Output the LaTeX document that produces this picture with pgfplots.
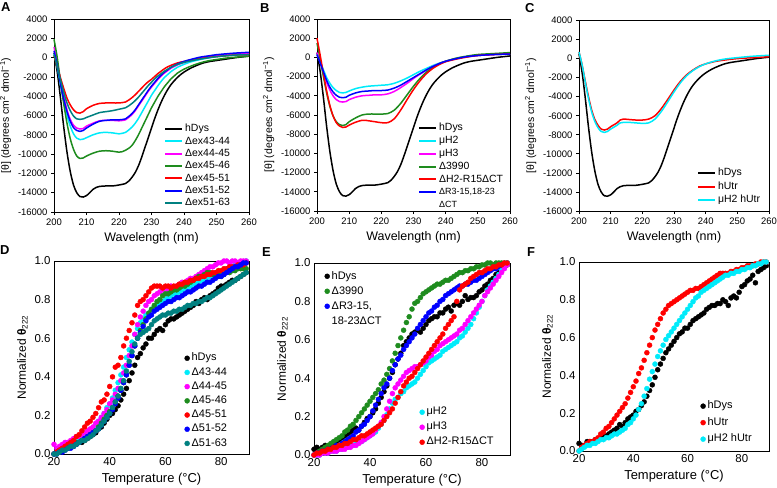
\documentclass[border=0pt]{standalone}
\usepackage{fontspec}
\setmainfont{Liberation Sans}
\usepackage{pgfplots}
\usepackage{pgfplotstable}
\pgfplotsset{compat=1.18}

\definecolor{cCyan}{RGB}{0,235,250}
\definecolor{cMag}{RGB}{255,0,255}
\definecolor{cGreen}{RGB}{30,140,30}
\definecolor{cRed}{RGB}{255,0,0}
\definecolor{cBlue}{RGB}{0,0,255}
\definecolor{cTeal}{RGB}{0,128,128}

% hDys CD spectrum, shared by A, B, C
\pgfplotstableread{
200 500
201 -1500
202 -4200
203 -7200
204 -9800
205 -11800
206 -13200
207 -14000
208 -14400
209 -14450
210 -14300
211 -14000
212 -13650
213 -13450
214 -13350
216 -13300
218 -13300
220 -13200
222 -13050
223 -12800
224 -12400
225 -11900
226 -11200
227 -10300
228 -9300
229 -8300
230 -7300
231 -6300
232 -5400
233 -4600
234 -3900
235 -3300
236 -2800
237 -2400
238 -2050
239 -1750
240 -1500
242 -1100
244 -800
246 -550
248 -400
250 -300
253 -150
256 0
260 150
}\hdys

\pgfplotsset{
  panel/.style={scale only axis, clip=false,
    axis line style={line width=0.8bp},
    /pgf/number format/assume math mode=true,
    /pgf/number format/1000 sep={},
    scaled ticks=false,
    legend cell align=left,
    legend style={draw=none, fill=none, inner sep=0pt}},
  cd/.style={panel, xmin=200, xmax=260, ymin=-16000, ymax=4000,
    xtick={200,210,...,260}, ytick={-16000,-14000,...,4000},
    tick align=outside, tick pos=left, major tick length=3bp,
    tick style={line width=0.8bp, black},
    tick label style={font=\fontsize{9.5}{11}\selectfont},
    xlabel={Wavelength (nm)},
    ylabel={[θ] (degrees cm\textsuperscript{2} dmol\textsuperscript{−1})},
    xlabel style={font=\fontsize{12.5}{14}\selectfont},
    ylabel style={font=\fontsize{10.5}{12}\selectfont},
    legend style={font=\fontsize{10.5}{12}\selectfont},
    legend image post style={line width=2bp},
    every axis plot/.append style={line width=1.5bp, smooth, no marks}},
  melt/.style={panel, xmin=20, xmax=90, ymin=0, ymax=1,
    xtick={20,40,60,80}, ytick={0,0.2,0.4,0.6,0.8,1},
    major tick length=0pt, tick style={draw=none},
    tick label style={font=\fontsize{11.5}{13}\selectfont},
    yticklabel style={/pgf/number format/fixed,
      /pgf/number format/fixed zerofill, /pgf/number format/precision=1},
    xlabel={Temperature (°C)},
    ylabel={Normalized {\bfseries θ}\textsubscript{222}},
    xlabel style={font=\fontsize{13}{14}\selectfont, yshift=-1bp},
    ylabel style={font=\fontsize{12}{13}\selectfont},
    legend style={font=\fontsize{11}{12}\selectfont},
    every axis plot/.append style={only marks, mark=*, mark size=2.5bp}},
  rows/.style={legend style={nodes={text height=8bp, text depth=2.5bp, inner ysep=#1}}},
}

\begin{document}
\begin{tikzpicture}
\useasboundingbox (0,0) rectangle (777bp,-488bp);

\foreach \l/\x/\y in {A/1/-2, B/260/-3, C/525/-3, D/0/-245, E/262/-247, F/527/-247}
  \node[anchor=north west, inner sep=0pt, font=\bfseries\fontsize{13}{13}\selectfont] at (\x bp,\y bp) {\l};

%% ---------------- A ----------------
\begin{axis}[cd, at={(54bp,-19bp)}, anchor=north west, width=195bp, height=193bp,
  rows=0.9bp, legend style={at={(0.564,0.462)}, anchor=north west}]
\addplot[black] table {\hdys};
\addlegendentry{hDys}
\addplot[cCyan] coordinates {(200,400) (201,-1000) (202,-2800) (203,-4500) (204,-6000) (205,-7100) (206,-7900) (207,-8350) (208,-8500) (209,-8450) (210,-8300) (212,-8000) (214,-7800) (216,-7750) (218,-7800) (220,-7900) (221,-7850) (222,-7750) (223,-7500) (224,-7200) (225,-6800) (226,-6300) (227,-5700) (228,-5100) (229,-4500) (230,-3900) (231,-3400) (232,-2900) (233,-2450) (234,-2050) (235,-1750) (236,-1450) (238,-1000) (240,-700) (242,-450) (245,-200) (248,0) (250,100) (255,250) (260,350)};
\addlegendentry{Δex43-44}
\addplot[cMag] coordinates {(200,1100) (201,-500) (202,-2400) (203,-4000) (204,-5400) (205,-6400) (206,-7000) (207,-7300) (208,-7400) (209,-7350) (210,-7100) (212,-6800) (214,-6550) (216,-6500) (218,-6500) (220,-6550) (222,-6450) (223,-6200) (224,-5900) (225,-5500) (226,-5000) (227,-4500) (228,-4000) (229,-3500) (230,-3050) (231,-2650) (232,-2250) (233,-1900) (234,-1600) (235,-1350) (236,-1100) (238,-750) (240,-500) (242,-300) (245,-50) (248,100) (250,200) (255,350) (260,450)};
\addlegendentry{Δex44-45}
\addplot[cGreen] coordinates {(200,1900) (201,0) (202,-2500) (203,-4800) (204,-6800) (205,-8400) (206,-9500) (207,-10200) (208,-10450) (209,-10400) (210,-10200) (212,-9900) (214,-9700) (216,-9650) (218,-9700) (220,-9800) (221,-9750) (222,-9600) (223,-9400) (224,-9100) (225,-8600) (226,-8000) (227,-7300) (228,-6600) (229,-5900) (230,-5200) (231,-4600) (232,-4000) (233,-3500) (234,-3000) (235,-2600) (236,-2200) (237,-1900) (238,-1600) (240,-1200) (242,-900) (244,-650) (246,-450) (248,-300) (250,-200) (253,-50) (256,50) (260,150)};
\addlegendentry{Δex45-46}
\addplot[cRed] coordinates {(200,200) (201,-900) (202,-2100) (203,-3200) (204,-4200) (205,-4900) (206,-5400) (207,-5700) (208,-5750) (209,-5600) (210,-5300) (212,-4950) (214,-4750) (216,-4700) (218,-4700) (220,-4700) (222,-4600) (223,-4400) (224,-4150) (225,-3850) (226,-3500) (227,-3150) (228,-2800) (229,-2500) (230,-2250) (231,-1950) (232,-1650) (233,-1400) (234,-1150) (235,-950) (236,-800) (238,-550) (240,-400) (242,-250) (245,-100) (248,50) (250,100) (255,250) (260,300)};
\addlegendentry{Δex45-51}
\addplot[cBlue] coordinates {(200,700) (201,-800) (202,-2700) (203,-4300) (204,-5600) (205,-6600) (206,-7250) (207,-7550) (208,-7650) (209,-7550) (210,-7300) (212,-6900) (214,-6600) (216,-6500) (218,-6450) (220,-6450) (222,-6350) (223,-6100) (224,-5800) (225,-5400) (226,-4900) (227,-4400) (228,-3900) (229,-3400) (230,-2950) (231,-2550) (232,-2150) (233,-1800) (234,-1500) (235,-1250) (236,-1000) (238,-650) (240,-400) (242,-200) (245,50) (248,200) (250,300) (255,450) (260,550)};
\addlegendentry{Δex51-52}
\addplot[cTeal] coordinates {(200,300) (201,-900) (202,-2300) (203,-3600) (204,-4700) (205,-5500) (206,-6050) (207,-6350) (208,-6400) (209,-6350) (210,-6200) (212,-5950) (214,-5700) (216,-5600) (218,-5500) (220,-5350) (222,-5200) (223,-5000) (224,-4750) (225,-4450) (226,-4100) (227,-3700) (228,-3300) (229,-2900) (230,-2550) (231,-2200) (232,-1900) (233,-1650) (234,-1400) (235,-1200) (236,-1000) (238,-700) (240,-500) (242,-350) (245,-150) (248,0) (250,100) (255,250) (260,300)};
\addlegendentry{Δex51-63}
\end{axis}

%% ---------------- B ----------------
\begin{axis}[cd, at={(317bp,-19bp)}, anchor=north west, width=193bp, height=192bp,
  rows=1.15bp, legend style={at={(0.523,0.466)}, anchor=north west}]
\addplot[black] table {\hdys};
\addlegendentry{hDys}
\addplot[cCyan] coordinates {(200,300) (201,-500) (202,-1300) (203,-2100) (204,-2700) (205,-3150) (206,-3450) (207,-3650) (208,-3700) (209,-3650) (210,-3500) (212,-3250) (214,-3100) (216,-3000) (218,-2950) (220,-2900) (222,-2850) (224,-2700) (226,-2450) (228,-2150) (230,-1800) (232,-1450) (234,-1150) (236,-850) (238,-600) (240,-400) (243,-150) (246,50) (250,200) (255,300) (260,350)};
\addlegendentry{μH2}
\addplot[cMag] coordinates {(200,500) (201,-500) (202,-1600) (203,-2600) (204,-3400) (205,-4000) (206,-4400) (207,-4600) (208,-4650) (209,-4600) (210,-4400) (212,-4150) (214,-4000) (216,-3950) (218,-3900) (220,-3900) (222,-3800) (224,-3550) (226,-3150) (228,-2700) (230,-2200) (232,-1750) (234,-1350) (236,-950) (238,-650) (240,-400) (243,-150) (246,50) (250,200) (255,300) (260,400)};
\addlegendentry{μH3}
\addplot[cGreen] coordinates {(200,1500) (201,-200) (202,-2000) (203,-3700) (204,-5100) (205,-6100) (206,-6700) (207,-7000) (208,-7100) (209,-7000) (210,-6700) (212,-6300) (214,-6000) (216,-5900) (218,-5900) (220,-5900) (222,-5850) (224,-5500) (226,-4800) (228,-3900) (230,-3000) (232,-2200) (234,-1550) (236,-1050) (238,-650) (240,-400) (243,-100) (246,100) (250,300) (255,400) (260,500)};
\addlegendentry{Δ3990}
\addplot[cRed] coordinates {(200,2000) (201,200) (202,-1700) (203,-3500) (204,-5000) (205,-6100) (206,-6800) (207,-7150) (208,-7300) (209,-7250) (210,-7050) (212,-6750) (214,-6550) (215,-6550) (216,-6600) (218,-6700) (220,-6800) (222,-6800) (224,-6400) (226,-5500) (228,-4400) (230,-3350) (232,-2450) (234,-1700) (236,-1150) (238,-750) (240,-450) (243,-200) (246,0) (250,200) (255,300) (260,350)};
\addlegendentry{ΔH2-R15ΔCT}
\addplot[cBlue] coordinates {(200,300) (201,-600) (202,-1500) (203,-2400) (204,-3100) (205,-3600) (206,-3950) (207,-4150) (208,-4200) (209,-4150) (210,-3950) (212,-3700) (214,-3550) (216,-3500) (218,-3450) (220,-3450) (222,-3400) (224,-3200) (226,-2900) (228,-2500) (230,-2100) (232,-1700) (234,-1300) (236,-950) (238,-650) (240,-400) (243,-150) (246,50) (250,200) (255,300) (260,350)};
\addlegendentry{{\fontsize{9}{10}\selectfont ΔR3-15,18-23}}
\addlegendimage{empty legend}
\addlegendentry{{\fontsize{9}{10}\selectfont ΔCT}}
\end{axis}

%% ---------------- C ----------------
\begin{axis}[cd, at={(579bp,-20.5bp)}, anchor=north west, width=190bp, height=190.5bp,
  rows=1.5bp, legend style={at={(0.62,0.235)}, anchor=north west}]
\addplot[black] table {\hdys};
\addlegendentry{hDys}
\addplot[cRed] coordinates {(200,700) (201,-700) (202,-2400) (203,-4000) (204,-5400) (205,-6400) (206,-7000) (207,-7400) (208,-7500) (209,-7400) (210,-7150) (212,-6750) (213,-6450) (214,-6350) (216,-6400) (218,-6450) (220,-6450) (222,-6350) (224,-6000) (226,-5250) (228,-4300) (230,-3300) (232,-2400) (234,-1700) (236,-1200) (238,-800) (240,-550) (243,-300) (246,-150) (250,0) (255,100) (260,200)};
\addlegendentry{hUtr}
\addplot[cCyan] coordinates {(200,700) (201,-700) (202,-2500) (203,-4200) (204,-5600) (205,-6600) (206,-7250) (207,-7650) (208,-7750) (209,-7650) (210,-7400) (212,-7000) (213,-6750) (214,-6700) (216,-6700) (218,-6750) (220,-6800) (222,-6750) (224,-6350) (226,-5550) (228,-4550) (230,-3500) (232,-2550) (234,-1800) (236,-1250) (238,-850) (240,-550) (243,-250) (246,-50) (250,100) (255,250) (260,350)};
\addlegendentry{μH2 hUtr}
\end{axis}

%% ---------------- D ----------------
\begin{axis}[melt, at={(54bp,-261bp)}, anchor=north west, width=195bp, height=193bp,
  rows=1.85bp, legend style={at={(0.669,0.534)}, anchor=north west}]
\addplot[black] table[row sep=\\] {20 0.00\\ 21 0.01\\ 22 0.02\\ 23 0.02\\ 24 0.03\\ 25 0.03\\ 26 0.04\\ 27 0.04\\ 28 0.05\\ 29 0.06\\ 30 0.06\\ 31 0.07\\ 32 0.08\\ 33 0.09\\ 34 0.10\\ 35 0.11\\ 36 0.13\\ 37 0.14\\ 38 0.16\\ 39 0.18\\ 40 0.20\\ 41 0.21\\ 42 0.23\\ 43 0.25\\ 44 0.28\\ 45 0.31\\ 46 0.34\\ 47 0.38\\ 48 0.42\\ 49 0.46\\ 50 0.50\\ 51 0.52\\ 52 0.55\\ 53 0.57\\ 54 0.60\\ 55 0.60\\ 56 0.62\\ 57 0.64\\ 58 0.65\\ 59 0.64\\ 60 0.67\\ 61 0.69\\ 62 0.70\\ 63 0.70\\ 64 0.71\\ 65 0.72\\ 66 0.73\\ 67 0.74\\ 68 0.75\\ 69 0.76\\ 70 0.77\\ 71 0.79\\ 72 0.78\\ 73 0.80\\ 74 0.81\\ 75 0.80\\ 76 0.82\\ 77 0.83\\ 78 0.84\\ 79 0.86\\ 80 0.87\\ 81 0.87\\ 82 0.88\\ 83 0.89\\ 84 0.90\\ 85 0.90\\ 86 0.91\\ 87 0.92\\ 88 0.93\\ 89 0.94\\};
\addlegendentry{hDys}
\addplot[cCyan] table[row sep=\\] {20 0.00\\ 21 0.01\\ 22 0.02\\ 23 0.02\\ 24 0.03\\ 25 0.04\\ 26 0.05\\ 27 0.05\\ 28 0.06\\ 29 0.07\\ 30 0.08\\ 31 0.09\\ 32 0.10\\ 33 0.12\\ 34 0.13\\ 35 0.15\\ 36 0.17\\ 37 0.19\\ 38 0.21\\ 39 0.24\\ 40 0.26\\ 41 0.29\\ 42 0.33\\ 43 0.37\\ 44 0.41\\ 45 0.45\\ 46 0.50\\ 47 0.54\\ 48 0.58\\ 49 0.62\\ 50 0.65\\ 51 0.68\\ 52 0.70\\ 53 0.72\\ 54 0.73\\ 55 0.75\\ 56 0.76\\ 57 0.77\\ 58 0.78\\ 59 0.79\\ 60 0.80\\ 61 0.81\\ 62 0.82\\ 63 0.83\\ 64 0.83\\ 65 0.84\\ 66 0.85\\ 67 0.86\\ 68 0.86\\ 69 0.87\\ 70 0.88\\ 71 0.88\\ 72 0.89\\ 73 0.90\\ 74 0.90\\ 75 0.91\\ 76 0.92\\ 77 0.92\\ 78 0.93\\ 79 0.94\\ 80 0.94\\ 81 0.95\\ 82 0.96\\ 83 0.96\\ 84 0.97\\ 85 0.98\\ 86 0.98\\ 87 0.99\\ 88 0.99\\ 89 1.00\\};
\addlegendentry{Δ43-44}
\addplot[cMag] table[row sep=\\] {20 0.05\\ 21 0.03\\ 22 0.04\\ 23 0.05\\ 24 0.06\\ 25 0.06\\ 26 0.07\\ 27 0.08\\ 28 0.09\\ 29 0.09\\ 30 0.10\\ 31 0.11\\ 32 0.12\\ 33 0.13\\ 34 0.14\\ 35 0.16\\ 36 0.17\\ 37 0.19\\ 38 0.21\\ 39 0.23\\ 40 0.26\\ 41 0.28\\ 42 0.31\\ 43 0.34\\ 44 0.38\\ 45 0.42\\ 46 0.46\\ 47 0.51\\ 48 0.56\\ 49 0.62\\ 50 0.67\\ 51 0.71\\ 52 0.74\\ 53 0.77\\ 54 0.79\\ 55 0.80\\ 56 0.82\\ 57 0.83\\ 58 0.84\\ 59 0.85\\ 60 0.86\\ 61 0.85\\ 62 0.87\\ 63 0.86\\ 64 0.87\\ 65 0.88\\ 66 0.89\\ 67 0.89\\ 68 0.90\\ 69 0.91\\ 70 0.91\\ 71 0.92\\ 72 0.93\\ 73 0.94\\ 74 0.95\\ 75 0.96\\ 76 0.97\\ 77 0.97\\ 78 0.98\\ 79 0.99\\ 80 0.99\\ 81 1.00\\ 82 1.00\\ 83 0.99\\ 84 1.00\\ 85 1.00\\ 86 0.99\\ 87 1.00\\ 88 1.00\\ 89 1.00\\};
\addlegendentry{Δ44-45}
\addplot[cGreen] table[row sep=\\] {20 0.00\\ 21 0.01\\ 22 0.02\\ 23 0.02\\ 24 0.03\\ 25 0.04\\ 26 0.04\\ 27 0.05\\ 28 0.06\\ 29 0.06\\ 30 0.07\\ 31 0.08\\ 32 0.09\\ 33 0.10\\ 34 0.11\\ 35 0.12\\ 36 0.14\\ 37 0.16\\ 38 0.18\\ 39 0.20\\ 40 0.22\\ 41 0.24\\ 42 0.27\\ 43 0.30\\ 44 0.33\\ 45 0.37\\ 46 0.41\\ 47 0.46\\ 48 0.51\\ 49 0.56\\ 50 0.60\\ 51 0.64\\ 52 0.67\\ 53 0.70\\ 54 0.73\\ 55 0.75\\ 56 0.77\\ 57 0.79\\ 58 0.80\\ 59 0.82\\ 60 0.83\\ 61 0.83\\ 62 0.84\\ 63 0.85\\ 64 0.85\\ 65 0.86\\ 66 0.87\\ 67 0.87\\ 68 0.88\\ 69 0.89\\ 70 0.90\\ 71 0.91\\ 72 0.92\\ 73 0.92\\ 74 0.93\\ 75 0.94\\ 76 0.94\\ 77 0.93\\ 78 0.92\\ 79 0.93\\ 80 0.92\\ 81 0.93\\ 82 0.94\\ 83 0.94\\ 84 0.95\\ 85 0.95\\ 86 0.96\\ 87 0.96\\ 88 0.96\\ 89 0.96\\};
\addlegendentry{Δ45-46}
\addplot[cRed] table[row sep=\\] {20 0.00\\ 21 0.01\\ 22 0.02\\ 23 0.03\\ 24 0.04\\ 25 0.05\\ 26 0.06\\ 27 0.07\\ 28 0.09\\ 29 0.10\\ 30 0.12\\ 31 0.14\\ 32 0.16\\ 33 0.17\\ 34 0.19\\ 35 0.21\\ 36 0.24\\ 37 0.27\\ 38 0.28\\ 39 0.31\\ 40 0.35\\ 41 0.40\\ 42 0.45\\ 43 0.46\\ 44 0.50\\ 45 0.56\\ 46 0.60\\ 47 0.64\\ 48 0.68\\ 49 0.72\\ 50 0.77\\ 51 0.79\\ 52 0.80\\ 53 0.82\\ 54 0.84\\ 55 0.86\\ 56 0.87\\ 57 0.87\\ 58 0.87\\ 59 0.86\\ 60 0.87\\ 61 0.87\\ 62 0.86\\ 63 0.87\\ 64 0.87\\ 65 0.88\\ 66 0.88\\ 67 0.89\\ 68 0.89\\ 69 0.90\\ 70 0.90\\ 71 0.91\\ 72 0.91\\ 73 0.92\\ 74 0.92\\ 75 0.93\\ 76 0.93\\ 77 0.94\\ 78 0.94\\ 79 0.95\\ 80 0.95\\ 81 0.96\\ 82 0.96\\ 83 0.97\\ 84 0.97\\ 85 0.97\\ 86 0.98\\ 87 0.98\\ 88 0.98\\ 89 0.99\\};
\addlegendentry{Δ45-51}
\addplot[cBlue] table[row sep=\\] {20 0.00\\ 21 0.00\\ 22 0.01\\ 23 0.01\\ 24 0.02\\ 25 0.03\\ 26 0.03\\ 27 0.04\\ 28 0.05\\ 29 0.06\\ 30 0.07\\ 31 0.08\\ 32 0.09\\ 33 0.10\\ 34 0.11\\ 35 0.12\\ 36 0.13\\ 37 0.15\\ 38 0.17\\ 39 0.19\\ 40 0.21\\ 41 0.23\\ 42 0.26\\ 43 0.29\\ 44 0.33\\ 45 0.37\\ 46 0.41\\ 47 0.46\\ 48 0.51\\ 49 0.56\\ 50 0.60\\ 51 0.63\\ 52 0.66\\ 53 0.69\\ 54 0.71\\ 55 0.72\\ 56 0.74\\ 57 0.75\\ 58 0.76\\ 59 0.77\\ 60 0.78\\ 61 0.79\\ 62 0.79\\ 63 0.80\\ 64 0.81\\ 65 0.81\\ 66 0.82\\ 67 0.83\\ 68 0.84\\ 69 0.84\\ 70 0.85\\ 71 0.86\\ 72 0.87\\ 73 0.87\\ 74 0.88\\ 75 0.89\\ 76 0.89\\ 77 0.90\\ 78 0.91\\ 79 0.92\\ 80 0.92\\ 81 0.93\\ 82 0.94\\ 83 0.95\\ 84 0.96\\ 85 0.97\\ 86 0.97\\ 87 0.98\\ 88 0.99\\ 89 0.99\\};
\addlegendentry{Δ51-52}
\addplot[cTeal] table[row sep=\\] {20 0.00\\ 21 0.00\\ 22 0.01\\ 23 0.02\\ 24 0.02\\ 25 0.03\\ 26 0.04\\ 27 0.04\\ 28 0.05\\ 29 0.06\\ 30 0.07\\ 31 0.07\\ 32 0.08\\ 33 0.09\\ 34 0.10\\ 35 0.12\\ 36 0.13\\ 37 0.15\\ 38 0.17\\ 39 0.19\\ 40 0.21\\ 41 0.24\\ 42 0.27\\ 43 0.30\\ 44 0.34\\ 45 0.38\\ 46 0.43\\ 47 0.48\\ 48 0.53\\ 49 0.57\\ 50 0.60\\ 51 0.62\\ 52 0.63\\ 53 0.64\\ 54 0.65\\ 55 0.67\\ 56 0.69\\ 57 0.70\\ 58 0.71\\ 59 0.72\\ 60 0.72\\ 61 0.73\\ 62 0.73\\ 63 0.74\\ 64 0.74\\ 65 0.75\\ 66 0.75\\ 67 0.76\\ 68 0.77\\ 69 0.77\\ 70 0.78\\ 71 0.78\\ 72 0.79\\ 73 0.79\\ 74 0.80\\ 75 0.81\\ 76 0.81\\ 77 0.82\\ 78 0.83\\ 79 0.84\\ 80 0.85\\ 81 0.86\\ 82 0.87\\ 83 0.88\\ 84 0.89\\ 85 0.90\\ 86 0.91\\ 87 0.92\\ 88 0.93\\ 89 0.94\\};
\addlegendentry{Δ51-63}
\end{axis}

%% ---------------- E ----------------
\begin{axis}[melt, at={(314bp,-263bp)}, anchor=north west, width=196bp, height=192bp,
  rows=2.25bp, legend style={at={(0.023,0.971)}, anchor=north west}]
\addplot[black] table[row sep=\\] {20 0.03\\ 21 0.04\\ 22 0.03\\ 23 0.04\\ 24 0.05\\ 25 0.04\\ 26 0.05\\ 27 0.06\\ 28 0.07\\ 29 0.08\\ 30 0.09\\ 31 0.10\\ 32 0.11\\ 33 0.12\\ 34 0.13\\ 35 0.14\\ 36 0.13\\ 37 0.15\\ 38 0.17\\ 39 0.19\\ 40 0.20\\ 41 0.22\\ 42 0.24\\ 43 0.27\\ 44 0.30\\ 45 0.33\\ 46 0.36\\ 47 0.40\\ 48 0.43\\ 49 0.47\\ 50 0.50\\ 51 0.53\\ 52 0.57\\ 53 0.59\\ 54 0.61\\ 55 0.63\\ 56 0.64\\ 57 0.65\\ 58 0.64\\ 59 0.66\\ 60 0.68\\ 61 0.70\\ 62 0.71\\ 63 0.72\\ 64 0.72\\ 65 0.74\\ 66 0.74\\ 67 0.76\\ 68 0.77\\ 69 0.75\\ 70 0.78\\ 71 0.79\\ 72 0.78\\ 73 0.80\\ 74 0.83\\ 75 0.81\\ 76 0.82\\ 77 0.82\\ 78 0.83\\ 79 0.85\\ 80 0.86\\ 81 0.88\\ 82 0.89\\ 83 0.91\\ 84 0.92\\ 85 0.94\\ 86 0.95\\ 87 0.97\\ 88 0.98\\ 89 0.99\\};
\addlegendentry{hDys}
\addplot[cGreen] table[row sep=\\] {20 0.00\\ 21 0.01\\ 22 0.02\\ 23 0.03\\ 24 0.04\\ 25 0.05\\ 26 0.06\\ 27 0.07\\ 28 0.08\\ 29 0.09\\ 30 0.10\\ 31 0.12\\ 32 0.13\\ 33 0.15\\ 34 0.16\\ 35 0.18\\ 36 0.20\\ 37 0.22\\ 38 0.24\\ 39 0.26\\ 40 0.28\\ 41 0.30\\ 42 0.32\\ 43 0.34\\ 44 0.37\\ 45 0.39\\ 46 0.42\\ 47 0.45\\ 48 0.49\\ 49 0.53\\ 50 0.57\\ 51 0.61\\ 52 0.65\\ 53 0.69\\ 54 0.72\\ 55 0.76\\ 56 0.79\\ 57 0.80\\ 58 0.82\\ 59 0.84\\ 60 0.85\\ 61 0.86\\ 62 0.87\\ 63 0.88\\ 64 0.89\\ 65 0.89\\ 66 0.90\\ 67 0.91\\ 68 0.91\\ 69 0.92\\ 70 0.93\\ 71 0.94\\ 72 0.95\\ 73 0.95\\ 74 0.96\\ 75 0.96\\ 76 0.97\\ 77 0.97\\ 78 0.98\\ 79 0.98\\ 80 0.99\\ 81 0.99\\ 82 1.00\\ 83 1.00\\ 84 0.99\\ 85 1.00\\ 86 1.00\\ 87 1.00\\ 88 1.00\\ 89 1.00\\};
\addlegendentry{Δ3990}
\addplot[cBlue] table[row sep=\\] {20 0.00\\ 21 0.01\\ 22 0.01\\ 23 0.02\\ 24 0.02\\ 25 0.03\\ 26 0.03\\ 27 0.04\\ 28 0.05\\ 29 0.05\\ 30 0.06\\ 31 0.07\\ 32 0.08\\ 33 0.09\\ 34 0.10\\ 35 0.12\\ 36 0.13\\ 37 0.15\\ 38 0.16\\ 39 0.18\\ 40 0.20\\ 41 0.23\\ 42 0.26\\ 43 0.29\\ 44 0.32\\ 45 0.35\\ 46 0.37\\ 47 0.40\\ 48 0.44\\ 49 0.47\\ 50 0.50\\ 51 0.52\\ 52 0.55\\ 53 0.57\\ 54 0.59\\ 55 0.61\\ 56 0.63\\ 57 0.66\\ 58 0.68\\ 59 0.70\\ 60 0.72\\ 61 0.74\\ 62 0.75\\ 63 0.77\\ 64 0.78\\ 65 0.80\\ 66 0.81\\ 67 0.83\\ 68 0.84\\ 69 0.85\\ 70 0.86\\ 71 0.87\\ 72 0.88\\ 73 0.88\\ 74 0.89\\ 75 0.89\\ 76 0.90\\ 77 0.91\\ 78 0.91\\ 79 0.92\\ 80 0.93\\ 81 0.94\\ 82 0.95\\ 83 0.96\\ 84 0.97\\ 85 0.97\\ 86 0.98\\ 87 0.99\\ 88 0.99\\ 89 1.00\\};
\addlegendentry{ΔR3-15,}
\addlegendimage{empty legend}
\addlegendentry{18-23ΔCT}
\end{axis}
\begin{axis}[melt, hide axis, at={(314bp,-263bp)}, anchor=north west, width=196bp, height=192bp,
  rows=2.25bp, legend style={at={(0.538,0.263)}, anchor=north west}]
\addplot[cCyan] table[row sep=\\] {20 0.00\\ 21 0.00\\ 22 0.00\\ 23 0.01\\ 24 0.01\\ 25 0.01\\ 26 0.02\\ 27 0.02\\ 28 0.02\\ 29 0.03\\ 30 0.03\\ 31 0.04\\ 32 0.04\\ 33 0.05\\ 34 0.05\\ 35 0.06\\ 36 0.07\\ 37 0.07\\ 38 0.08\\ 39 0.09\\ 40 0.10\\ 41 0.11\\ 42 0.12\\ 43 0.14\\ 44 0.16\\ 45 0.18\\ 46 0.21\\ 47 0.24\\ 48 0.27\\ 49 0.29\\ 50 0.30\\ 51 0.32\\ 52 0.33\\ 53 0.35\\ 54 0.36\\ 55 0.37\\ 56 0.38\\ 57 0.40\\ 58 0.42\\ 59 0.44\\ 60 0.46\\ 61 0.48\\ 62 0.49\\ 63 0.50\\ 64 0.51\\ 65 0.52\\ 66 0.54\\ 67 0.55\\ 68 0.56\\ 69 0.57\\ 70 0.58\\ 71 0.59\\ 72 0.61\\ 73 0.62\\ 74 0.64\\ 75 0.66\\ 76 0.68\\ 77 0.71\\ 78 0.74\\ 79 0.77\\ 80 0.80\\ 81 0.83\\ 82 0.86\\ 83 0.88\\ 84 0.90\\ 85 0.92\\ 86 0.94\\ 87 0.96\\ 88 0.98\\ 89 1.00\\};
\addlegendentry{μH2}
\addplot[cMag] table[row sep=\\] {20 0.00\\ 21 0.00\\ 22 0.00\\ 23 0.01\\ 24 0.01\\ 25 0.01\\ 26 0.02\\ 27 0.02\\ 28 0.02\\ 29 0.03\\ 30 0.03\\ 31 0.03\\ 32 0.04\\ 33 0.04\\ 34 0.05\\ 35 0.05\\ 36 0.06\\ 37 0.07\\ 38 0.08\\ 39 0.09\\ 40 0.10\\ 41 0.11\\ 42 0.13\\ 43 0.15\\ 44 0.17\\ 45 0.20\\ 46 0.24\\ 47 0.28\\ 48 0.32\\ 49 0.35\\ 50 0.37\\ 51 0.39\\ 52 0.41\\ 53 0.43\\ 54 0.44\\ 55 0.45\\ 56 0.46\\ 57 0.46\\ 58 0.47\\ 59 0.48\\ 60 0.49\\ 61 0.51\\ 62 0.52\\ 63 0.54\\ 64 0.55\\ 65 0.57\\ 66 0.58\\ 67 0.59\\ 68 0.60\\ 69 0.61\\ 70 0.62\\ 71 0.63\\ 72 0.65\\ 73 0.66\\ 74 0.68\\ 75 0.70\\ 76 0.72\\ 77 0.74\\ 78 0.76\\ 79 0.78\\ 80 0.80\\ 81 0.83\\ 82 0.85\\ 83 0.87\\ 84 0.89\\ 85 0.91\\ 86 0.93\\ 87 0.95\\ 88 0.97\\ 89 0.99\\};
\addlegendentry{μH3}
\addplot[cRed] table[row sep=\\] {20 0.00\\ 21 0.01\\ 22 0.01\\ 23 0.02\\ 24 0.02\\ 25 0.03\\ 26 0.03\\ 27 0.04\\ 28 0.04\\ 29 0.05\\ 30 0.05\\ 31 0.06\\ 32 0.06\\ 33 0.07\\ 34 0.08\\ 35 0.08\\ 36 0.09\\ 37 0.10\\ 38 0.10\\ 39 0.11\\ 40 0.12\\ 41 0.13\\ 42 0.14\\ 43 0.15\\ 44 0.16\\ 45 0.18\\ 46 0.20\\ 47 0.22\\ 48 0.24\\ 49 0.27\\ 50 0.30\\ 51 0.33\\ 52 0.36\\ 53 0.38\\ 54 0.40\\ 55 0.41\\ 56 0.43\\ 57 0.45\\ 58 0.47\\ 59 0.49\\ 60 0.51\\ 61 0.53\\ 62 0.55\\ 63 0.57\\ 64 0.59\\ 65 0.61\\ 66 0.63\\ 67 0.66\\ 68 0.68\\ 69 0.70\\ 70 0.72\\ 71 0.80\\ 72 0.86\\ 73 0.88\\ 74 0.89\\ 75 0.90\\ 76 0.92\\ 77 0.93\\ 78 0.94\\ 79 0.95\\ 80 0.95\\ 81 0.96\\ 82 0.97\\ 83 0.97\\ 84 0.98\\ 85 0.98\\ 86 0.99\\ 87 0.99\\ 88 1.00\\ 89 1.00\\};
\addlegendentry{ΔH2-R15ΔCT}
\end{axis}

%% ---------------- F ----------------
\begin{axis}[melt, at={(579bp,-262bp)}, anchor=north west, width=190bp, height=189bp,
  rows=3bp, legend style={at={(0.639,0.282)}, anchor=north west}]
\addplot[black] table[row sep=\\] {20 0.04\\ 21 0.03\\ 22 0.03\\ 23 0.05\\ 24 0.05\\ 25 0.05\\ 26 0.06\\ 27 0.06\\ 28 0.07\\ 29 0.08\\ 30 0.08\\ 31 0.09\\ 32 0.10\\ 33 0.11\\ 34 0.12\\ 35 0.14\\ 36 0.13\\ 37 0.15\\ 38 0.17\\ 39 0.18\\ 40 0.19\\ 41 0.21\\ 42 0.22\\ 43 0.24\\ 44 0.26\\ 45 0.29\\ 46 0.32\\ 47 0.35\\ 48 0.39\\ 49 0.43\\ 50 0.46\\ 51 0.49\\ 52 0.52\\ 53 0.54\\ 54 0.56\\ 55 0.58\\ 56 0.60\\ 57 0.62\\ 58 0.63\\ 59 0.65\\ 60 0.65\\ 61 0.67\\ 62 0.69\\ 63 0.70\\ 64 0.71\\ 65 0.72\\ 66 0.73\\ 67 0.75\\ 68 0.76\\ 69 0.77\\ 70 0.77\\ 71 0.78\\ 72 0.78\\ 73 0.80\\ 74 0.79\\ 75 0.77\\ 76 0.81\\ 77 0.82\\ 78 0.81\\ 79 0.84\\ 80 0.87\\ 81 0.88\\ 82 0.90\\ 83 0.91\\ 84 0.93\\ 85 0.89\\ 86 0.95\\ 87 0.96\\ 88 0.97\\ 89 0.98\\};
\addlegendentry{hDys}
\addplot[cRed] table[row sep=\\] {20 0.00\\ 21 0.02\\ 22 0.03\\ 23 0.04\\ 24 0.05\\ 25 0.05\\ 26 0.06\\ 27 0.07\\ 28 0.09\\ 29 0.10\\ 30 0.12\\ 31 0.13\\ 32 0.15\\ 33 0.17\\ 34 0.19\\ 35 0.21\\ 36 0.23\\ 37 0.25\\ 38 0.28\\ 39 0.31\\ 40 0.34\\ 41 0.37\\ 42 0.41\\ 43 0.44\\ 44 0.48\\ 45 0.52\\ 46 0.56\\ 47 0.60\\ 48 0.64\\ 49 0.67\\ 50 0.70\\ 51 0.73\\ 52 0.75\\ 53 0.77\\ 54 0.78\\ 55 0.79\\ 56 0.80\\ 57 0.81\\ 58 0.82\\ 59 0.83\\ 60 0.84\\ 61 0.85\\ 62 0.85\\ 63 0.86\\ 64 0.86\\ 65 0.87\\ 66 0.88\\ 67 0.89\\ 68 0.90\\ 69 0.91\\ 70 0.92\\ 71 0.93\\ 72 0.94\\ 73 0.94\\ 74 0.94\\ 75 0.94\\ 76 0.95\\ 77 0.95\\ 78 0.96\\ 79 0.96\\ 80 0.97\\ 81 0.97\\ 82 0.98\\ 83 0.98\\ 84 0.98\\ 85 0.99\\ 86 0.99\\ 87 1.00\\ 88 1.00\\ 89 1.00\\};
\addlegendentry{hUtr}
\addplot[cCyan] table[row sep=\\] {20 0.00\\ 21 0.01\\ 22 0.02\\ 23 0.03\\ 24 0.03\\ 25 0.04\\ 26 0.04\\ 27 0.05\\ 28 0.06\\ 29 0.06\\ 30 0.07\\ 31 0.07\\ 32 0.08\\ 33 0.09\\ 34 0.09\\ 35 0.10\\ 36 0.11\\ 37 0.12\\ 38 0.14\\ 39 0.15\\ 40 0.17\\ 41 0.19\\ 42 0.22\\ 43 0.25\\ 44 0.29\\ 45 0.33\\ 46 0.38\\ 47 0.42\\ 48 0.46\\ 49 0.50\\ 50 0.53\\ 51 0.56\\ 52 0.59\\ 53 0.61\\ 54 0.63\\ 55 0.65\\ 56 0.67\\ 57 0.69\\ 58 0.71\\ 59 0.73\\ 60 0.75\\ 61 0.77\\ 62 0.79\\ 63 0.81\\ 64 0.82\\ 65 0.84\\ 66 0.85\\ 67 0.86\\ 68 0.87\\ 69 0.88\\ 70 0.89\\ 71 0.90\\ 72 0.91\\ 73 0.92\\ 74 0.93\\ 75 0.93\\ 76 0.94\\ 77 0.94\\ 78 0.95\\ 79 0.95\\ 80 0.96\\ 81 0.96\\ 82 0.97\\ 83 0.97\\ 84 0.98\\ 85 0.98\\ 86 0.99\\ 87 0.99\\ 88 1.00\\ 89 1.00\\};
\addlegendentry{μH2 hUtr}
\end{axis}
\end{tikzpicture}
\end{document}
